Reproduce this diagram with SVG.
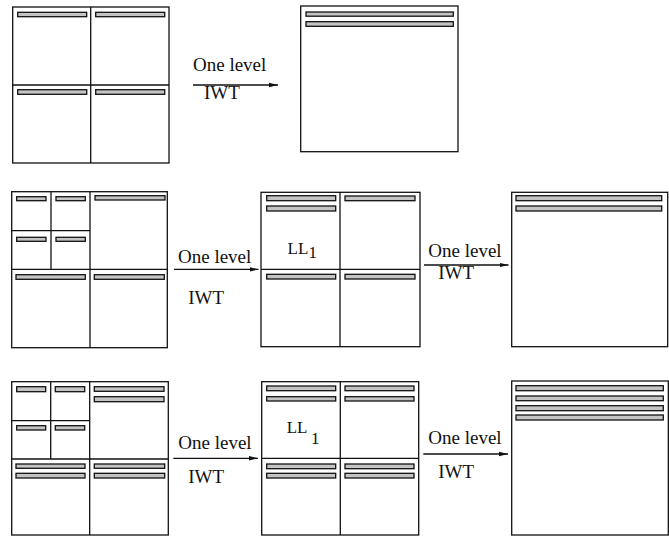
<svg xmlns="http://www.w3.org/2000/svg" width="669" height="536" viewBox="0 0 669 536">
<defs>
<style>
.sq{fill:#fff;stroke:#111;stroke-width:1.3}
.dv{stroke:#111;stroke-width:1.3;fill:none}
.bar{fill:#c4c4c4;stroke:#111;stroke-width:1.3}
.cn{stroke:#111;stroke-width:1.3;fill:none}
.t{font-size:19px;fill:#111}
.ll{font-size:17px;fill:#111}
</style>
<marker id="ah" markerWidth="10" markerHeight="6" refX="9" refY="3" orient="auto" markerUnits="userSpaceOnUse">
<path d="M0,0.8 L9,3 L0,5.2 Z" fill="#111"/>
</marker>
</defs>
<rect width="669" height="536" fill="#fff"/>

<!-- Row 1 -->
<g id="r1-left">
<rect class="sq" x="12.7" y="7" width="156.3" height="156"/>
<line class="dv" x1="90.7" y1="7" x2="90.7" y2="163"/>
<line class="dv" x1="12.7" y1="85" x2="169" y2="85"/>
<rect class="bar" x="17.7" y="12.3" width="69" height="4.4"/>
<rect class="bar" x="95.7" y="12.3" width="69" height="4.4"/>
<rect class="bar" x="17.7" y="89.7" width="69" height="4.6"/>
<rect class="bar" x="95.7" y="89.7" width="69" height="4.6"/>
</g>
<g id="r1-right">
<rect class="sq" x="300.7" y="6" width="157.3" height="145.7"/>
<rect class="bar" x="306" y="12" width="147.3" height="4.2"/>
<rect class="bar" x="306" y="21.7" width="147.3" height="4.6"/>
</g>

<!-- Row 2 -->
<g id="r2-left">
<rect class="sq" x="11.7" y="191.7" width="155.6" height="156"/>
<line class="dv" x1="90" y1="191.7" x2="90" y2="347.7"/>
<line class="dv" x1="11.7" y1="269.3" x2="167.3" y2="269.3"/>
<line class="dv" x1="51" y1="191.7" x2="51" y2="269.3"/>
<line class="dv" x1="11.7" y1="230.7" x2="90" y2="230.7"/>
<rect class="bar" x="16.7" y="196.7" width="29.3" height="4"/>
<rect class="bar" x="56" y="196.7" width="29.3" height="4"/>
<rect class="bar" x="16.7" y="237.3" width="29.3" height="4"/>
<rect class="bar" x="56" y="237.3" width="29.3" height="4"/>
<rect class="bar" x="95" y="195.7" width="70" height="4.3"/>
<rect class="bar" x="16" y="274.7" width="69.3" height="4.6"/>
<rect class="bar" x="94.3" y="274.7" width="70" height="4.6"/>
</g>
<g id="r2-mid" font-family="Liberation Serif, DejaVu Serif, serif">
<rect class="sq" x="261" y="192.3" width="159" height="154.4"/>
<line class="dv" x1="340" y1="192.3" x2="340" y2="346.7"/>
<line class="dv" x1="261" y1="269.3" x2="420" y2="269.3"/>
<rect class="bar" x="266.7" y="195.7" width="69" height="5"/>
<rect class="bar" x="266.7" y="206" width="69" height="5"/>
<rect class="bar" x="345" y="196" width="70" height="4.7"/>
<rect class="bar" x="266.7" y="274.3" width="69" height="4.7"/>
<rect class="bar" x="345" y="274.3" width="70" height="4.7"/>
<text class="ll" x="287.5" y="254">LL</text>
<text class="ll" x="308.5" y="257.5">1</text>
</g>
<g id="r2-right">
<rect class="sq" x="511.7" y="192.3" width="156" height="154.4"/>
<rect class="bar" x="516" y="195.7" width="145.7" height="5"/>
<rect class="bar" x="516" y="206" width="145.7" height="5"/>
</g>

<!-- Row 3 -->
<g id="r3-left">
<rect class="sq" x="11.7" y="381.7" width="156.6" height="153.3"/>
<line class="dv" x1="89.7" y1="381.7" x2="89.7" y2="535"/>
<line class="dv" x1="11.7" y1="459" x2="168.3" y2="459"/>
<line class="dv" x1="50.7" y1="381.7" x2="50.7" y2="459"/>
<line class="dv" x1="11.7" y1="420.7" x2="89.7" y2="420.7"/>
<rect class="bar" x="16.7" y="386.7" width="29" height="5"/>
<rect class="bar" x="55.3" y="386.7" width="29.4" height="5"/>
<rect class="bar" x="16.7" y="425.7" width="29" height="4.3"/>
<rect class="bar" x="55.3" y="425.7" width="29.4" height="4.3"/>
<rect class="bar" x="94.3" y="386.7" width="69.7" height="4.6"/>
<rect class="bar" x="94.3" y="396.7" width="69.7" height="5"/>
<rect class="bar" x="16" y="464" width="69" height="4.3"/>
<rect class="bar" x="16" y="473.3" width="69" height="4.7"/>
<rect class="bar" x="94.3" y="464" width="70.4" height="4.3"/>
<rect class="bar" x="94.3" y="473.3" width="70.4" height="4.7"/>
</g>
<g id="r3-mid" font-family="Liberation Serif, DejaVu Serif, serif">
<rect class="sq" x="261.7" y="381.7" width="157" height="153.3"/>
<line class="dv" x1="340.3" y1="381.7" x2="340.3" y2="535"/>
<line class="dv" x1="261.7" y1="458.3" x2="418.7" y2="458.3"/>
<rect class="bar" x="266.7" y="386" width="69" height="4.7"/>
<rect class="bar" x="266.7" y="396.7" width="69" height="4.3"/>
<rect class="bar" x="345" y="386" width="69" height="4.7"/>
<rect class="bar" x="345" y="396.7" width="69" height="4.3"/>
<rect class="bar" x="266.7" y="464" width="69" height="4.7"/>
<rect class="bar" x="266.7" y="473.3" width="69" height="4.7"/>
<rect class="bar" x="345" y="464" width="69" height="4.7"/>
<rect class="bar" x="345" y="473.3" width="69" height="4.7"/>
<text class="ll" x="286.7" y="433.3">LL</text>
<text class="ll" x="311" y="444.3">1</text>
</g>
<g id="r3-right">
<rect class="sq" x="511.7" y="381" width="156.6" height="154"/>
<rect class="bar" x="516" y="385.7" width="147.3" height="5"/>
<rect class="bar" x="516" y="396" width="147.3" height="4.7"/>
<rect class="bar" x="516" y="405.7" width="147.3" height="5"/>
<rect class="bar" x="516" y="415" width="147.3" height="5"/>
</g>

<!-- Connectors -->
<g id="connectors">
<line class="cn" x1="193" y1="85" x2="278" y2="85" marker-end="url(#ah)"/>
<line class="cn" x1="174" y1="269.3" x2="258.5" y2="269.3" marker-end="url(#ah)"/>
<line class="cn" x1="424" y1="265" x2="508.5" y2="265" marker-end="url(#ah)"/>
<line class="cn" x1="173.3" y1="458.3" x2="258" y2="458.3" marker-end="url(#ah)"/>
<line class="cn" x1="423.3" y1="454" x2="508" y2="454" marker-end="url(#ah)"/>
</g>
<g id="labels" font-family="Liberation Serif, DejaVu Serif, serif">
<text class="t" x="193" y="70.5">One level</text>
<text class="t" x="204" y="99">IWT</text>
<text class="t" x="178" y="262.7">One level</text>
<text class="t" x="188.3" y="304">IWT</text>
<text class="t" x="428.3" y="256.7">One level</text>
<text class="t" x="438.3" y="279">IWT</text>
<text class="t" x="178.3" y="449.3">One level</text>
<text class="t" x="188.3" y="482.7">IWT</text>
<text class="t" x="428.3" y="444">One level</text>
<text class="t" x="438.3" y="478.3">IWT</text>
</g>
</svg>
